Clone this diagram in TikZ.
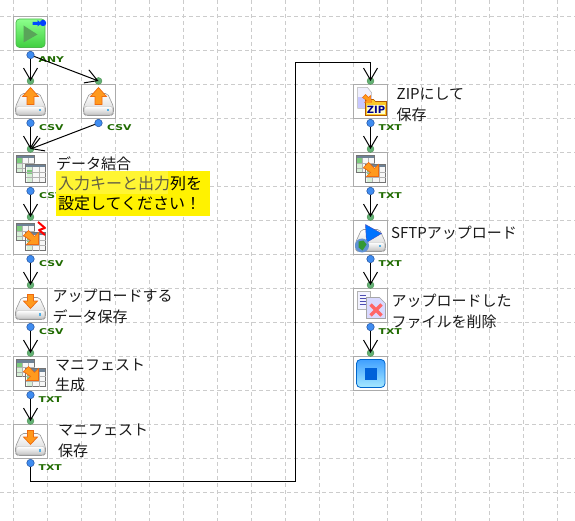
\documentclass[tikz,border=0pt]{standalone}
\usepackage{fontspec}
\usetikzlibrary{arrows.meta}
\setmainfont{Noto Sans CJK JP}
\newfontfamily\lblfont{DejaVu Sans}
\definecolor{gridc}{HTML}{CCCCCC}
\definecolor{boxc}{HTML}{ABABAB}
\definecolor{lblc}{HTML}{1F6A00}
\definecolor{org}{HTML}{FF9A1E}
\definecolor{orgd}{HTML}{EE6A10}
\definecolor{portb}{HTML}{3F8CF0}
\definecolor{portbd}{HTML}{1F4F9C}
\definecolor{portg}{HTML}{62B074}
\definecolor{tblhead}{HTML}{6E8296}
\definecolor{tblgreen}{HTML}{7CCB7C}
\definecolor{tbllight}{HTML}{D6EFD6}
\tikzset{
 x=1pt,y=-1pt,
 gridline/.style={draw=gridc,line width=0.9pt,dash pattern=on 4pt off 3pt},
 iconbox/.style={draw=boxc,line width=1pt,minimum size=34pt,inner sep=0pt,fill=white},
 outport/.style={circle,draw=portbd,line width=0.5pt,inner sep=0pt,minimum size=7.5pt,fill=portb},
 inport/.style={circle,fill=portg,draw=green!35!black!70,line width=0.3pt,inner sep=0pt,minimum size=7pt},
 wire/.style={draw=black,line width=1pt},
 arrowed/.style={wire,-{Straight Barb[length=12pt,width=14pt,line width=1pt]}},
 typelabel/.style={anchor=west,inner sep=0pt,text=lblc,font=\lblfont\bfseries\fontsize{8}{8}\selectfont},
 caption/.style={anchor=west,inner sep=0pt,align=left,text=black!90,font=\fontsize{15}{20.5}\selectfont},
 notefill/.style={fill=yellow,draw=none},
 tblline/.style={draw=black!30,line width=0.5pt},
 table/.pic={
  \fill[white!94!gray] (2.5,2.5) rectangle (21,20);
  \fill[tbllight] (3,6) rectangle (9,20);
  \fill[tblgreen] (3,6) rectangle (9,11);
  \fill[tblhead] (3,3) rectangle (21,6);
  \draw[black!55,line width=0.9pt] (2.5,2.5) rectangle (21,20);
  \draw[tblline] (9,6)--(9,20) (15,6)--(15,20) (3,11)--(21,11) (3,15.5)--(21,15.5);
  \fill[white!94!gray] (12,12) rectangle (32,30);
  \fill[tbllight] (13,15) rectangle (19,30);
  \fill[tblgreen] (13,18) rectangle (19,22);
  \fill[tblhead] (12,12) rectangle (32,15);
  \draw[black!55,line width=0.9pt] (12,12) rectangle (32,30);
  \draw[tblline] (19,15)--(19,30) (26,15)--(26,30) (12,20)--(32,20) (12,25)--(32,25);
 },
 xfarrow/.pic={
  \fill[org,draw=orgd,line width=0.7pt] (10,15)--(15,10)--(21,16)--(25,12)--(25,24)--(13,24)--(17,20)--cycle;
 },
 disk/.pic={
  \path[top color=white,bottom color=black!18,draw=black!40,line width=0.6pt,rounded corners=2pt]
    (8,9)--(26,9)--(32,22)--(32,29)--(30,31)--(4,31)--(2,29)--(2,22)--cycle;
  \path[top color=white,bottom color=black!22,draw=black!30,line width=0.4pt,rounded corners=2pt] (3,22) rectangle (31,30);
  \fill[cyan!80!blue!70] (25,24.5) rectangle (27.5,27);
 },
 uparrow/.pic={
  \fill[org,draw=orgd,line width=0.7pt] (17,3)--(25,12)--(20.5,12)--(20.5,20)--(13.5,20)--(13.5,12)--(9,12)--cycle;
 },
 downarrow/.pic={
  \fill[org,draw=orgd,line width=0.7pt] (14,6)--(20,6)--(20,12.5)--(24,12.5)--(17,20)--(10,12.5)--(14,12.5)--cycle;
 },
 startic/.pic={
  \path[top color=black!0!green!45!white,bottom color=green!75!black!75!white,draw=green!60!black!70,line width=0.7pt,rounded corners=3.5pt] (2.5,2.5) rectangle (31.5,31);
  \fill[green!45!black!65!white] (10,9)--(24,18)--(10,26)--cycle;
  \fill[blue!70!cyan] (19,5.5)--(24,5.5)--(24,3.5)--(28,7)--(24,10)--(24,8.5)--(19,8.5)--cycle;
  \fill[blue!75!cyan] (29.5,6.5) circle (3.2);
 },
 stopic/.pic={
  \path[top color=blue!50!cyan!75!white,bottom color=blue!25!cyan!35!white,draw=blue!50!cyan!80!black,line width=0.8pt,rounded corners=4pt] (3,3) rectangle (31.5,31);
  \fill[blue!55!cyan!85!black] (11.5,11) rectangle (23,23);
 },
 zipic/.pic={
  \fill[blue!6!white,draw=black!30,line width=0.5pt] (4,3)--(14,3)--(18,8)--(18,24)--(4,24)--cycle;
  \fill[blue!22!white] (4,13) rectangle (18,24);
  \fill[yellow!55!orange!85,draw=orange!70!black,line width=0.6pt] (12,15)--(20,15)--(22,17)--(33,17)--(33,31)--(12,31)--cycle;
  \fill[yellow!18!white] (13.5,21) rectangle (31.5,30);
  \node[inner sep=0pt,text=blue!55!black,font=\lblfont\bfseries\fontsize{10}{10}\selectfont] (zipword) at (22.5,25.5) {ZIP};
  \fill[org,draw=orgd,line width=0.4pt] (9,13)--(12,10)--(15,13)--(17,11)--(18,18)--(11,18)--(13,16)--cycle;
 },
 sftpic/.pic={
  \fill[blue!55!cyan,draw=blue!60!black!70,line width=0.4pt] (12,4)--(28,13)--(13,22)--cycle;
  \fill[cyan!50!blue!65] (8.5,25) circle (7);
  \fill[green!50!black!80] (5,21)--(10,20)--(13,24)--(9,30)--(5,27)--cycle;
 },
 delic/.pic={
  \fill[blue!5!white,draw=black!30,line width=0.5pt] (4,3)--(17,3)--(17,21)--(4,21)--cycle;
  \draw[blue!40!gray,line width=0.5pt] (6,7)--(12,7) (6,10)--(12,10) (6,13)--(12,13) (6,16)--(12,16);
  \fill[blue!15!white,draw=black!35,line width=0.6pt] (13,9)--(26,9)--(32,15)--(32,30)--(13,30)--cycle;
  \draw[red!60!white,line width=3.4pt] (17,16)--(28,27) (28,16)--(17,27);
 }
}
\begin{document}
\begin{tikzpicture}
\useasboundingbox (0,0) rectangle (575,521);
\fill[white] (0,0) rectangle (575,521);
\foreach \gx in {13.5,47.5,...,575}{\draw[gridline] (\gx,0)--(\gx,521);}
\foreach \gy in {16.5,50.5,...,521}{\draw[gridline] (0,\gy)--(575,\gy);}
% icon boxes
\node[iconbox] (n1) at (30.5,33.5) {};
\node[iconbox] (n2) at (30.5,101.5) {};
\node[iconbox] (n3) at (98.5,101.5) {};
\node[iconbox] (n4) at (30.5,169.5) {};
\node[iconbox] (n5) at (30.5,237.5) {};
\node[iconbox] (n6) at (30.5,305.5) {};
\node[iconbox] (n7) at (30.5,373.5) {};
\node[iconbox] (n8) at (30.5,441.5) {};
\node[iconbox] (n9) at (370.5,101.5) {};
\node[iconbox] (n10) at (370.5,169.5) {};
\node[iconbox] (n11) at (370.5,237.5) {};
\node[iconbox] (n12) at (370.5,305.5) {};
\node[iconbox] (n13) at (370.5,373.5) {};
% icons
\pic at (13.5,16.5) {startic};
\pic at (13.5,84.5) {disk}; \pic at (13.5,84.5) {uparrow};
\pic at (81.5,84.5) {disk}; \pic at (81.5,84.5) {uparrow};
\pic at (13.5,152.5) {table};
\pic at (13.5,220.5) {table}; \pic at (13.5,220.5) {xfarrow};
\draw[red,line width=2pt,line join=round] (38,222)--(45,228)--(39,230)--(45,235);
\pic at (13.5,288.5) {disk}; \pic at (13.5,288.5) {downarrow};
\pic at (13.5,356.5) {table}; \pic at (13.5,356.5) {xfarrow};
\pic at (13.5,424.5) {disk}; \pic at (13.5,424.5) {downarrow};
\pic at (353.5,84.5) {zipic};
\pic at (353.5,152.5) {table}; \pic at (353.5,152.5) {xfarrow};
\pic at (353.5,220.5) {disk}; \pic at (353.5,220.5) {sftpic};
\pic at (353.5,288.5) {delic};
\pic at (353.5,356.5) {stopic};
% ports
\foreach \nm/\px/\py in {o1/30.5/55,o2/30.5/123,o3/98.5/123,o4/30.5/191,o5/30.5/259,o6/30.5/327,o7/30.5/395,o8/30.5/463,o9/370.5/123,o10/370.5/191,o11/370.5/259,o12/370.5/327}
 {\node[outport] (\nm) at (\px,\py) {};}
\foreach \nm/\px/\py in {i2/30.5/81,i3/98.5/81,i4/30.5/149,i5/30.5/217,i6/30.5/285,i7/30.5/353,i8/30.5/421,i9/370.5/81,i10/370.5/149,i11/370.5/217,i12/370.5/285,i13/370.5/353}
 {\node[inport] (\nm) at (\px,\py) {};}
% type labels
\foreach \tn/\px/\py/\tx in {t1/38.5/59.5/ANY,t2/39/127.5/CSV,t3/107/127.5/CSV,t4/39/195.5/CSV,t5/39/263.5/CSV,t6/39/331.5/CSV,t7/38.5/399.5/TXT,t8/38.5/467.5/TXT,t9/378.5/127.5/TXT,t10/378.5/195.5/TXT,t11/378.5/263.5/TXT,t12/378.5/331.5/TXT}
 {\node[typelabel] (\tn) at (\px,\py) {\scalebox{1.35}[1]{\tx}};}
% connectors
\coordinate (c1) at (295,481);
\coordinate (c2) at (295,63);
\draw[arrowed] (o1) -- (i2.center);
\draw[arrowed] (o1) -- (i3.center);
\draw[arrowed] (o2) -- (i4.center);
\draw[arrowed] (o3) -- (i4.center);
\draw[arrowed] (o4) -- (i5.center);
\draw[arrowed] (o5) -- (i6.center);
\draw[arrowed] (o6) -- (i7.center);
\draw[arrowed] (o7) -- (i8.center);
\draw[arrowed] (o8) |- (c1) -- (c2) -| (i9.center);
\draw[arrowed] (o9) -- (i10.center);
\draw[arrowed] (o10) -- (i11.center);
\draw[arrowed] (o11) -- (i12.center);
\draw[arrowed] (o12) -- (i13.center);
% captions
\node[caption] (cap4) at (56,163.5) {データ結合};
\node[caption] (cap6) at (52.5,306.5) {アップロードする\\データ保存};
\node[caption] (cap7) at (55,375.5) {マニフェスト\\生成};
\node[caption] (cap8) at (58,441) {マニフェスト\\保存};
\node[caption] (cap9) at (396.5,105) {ZIPにして\\保存};
\node[caption] (cap11) at (391,232.5) {SFTPアップロード};
\node[caption] (cap12) at (391.5,311.5) {アップロードした\\ファイルを削除};
% note
\path[notefill] (56,171) rectangle (210,216);
\fill[yellow!80!white] (56,171) rectangle (168,194);
\node[anchor=west,inner sep=0pt,font=\fontsize{16}{20}\selectfont,align=left] (note) at (58,193.5) {\textcolor{black!70!yellow}{入力キーと出力}列を\\設定してください！};
\end{tikzpicture}
\end{document}
